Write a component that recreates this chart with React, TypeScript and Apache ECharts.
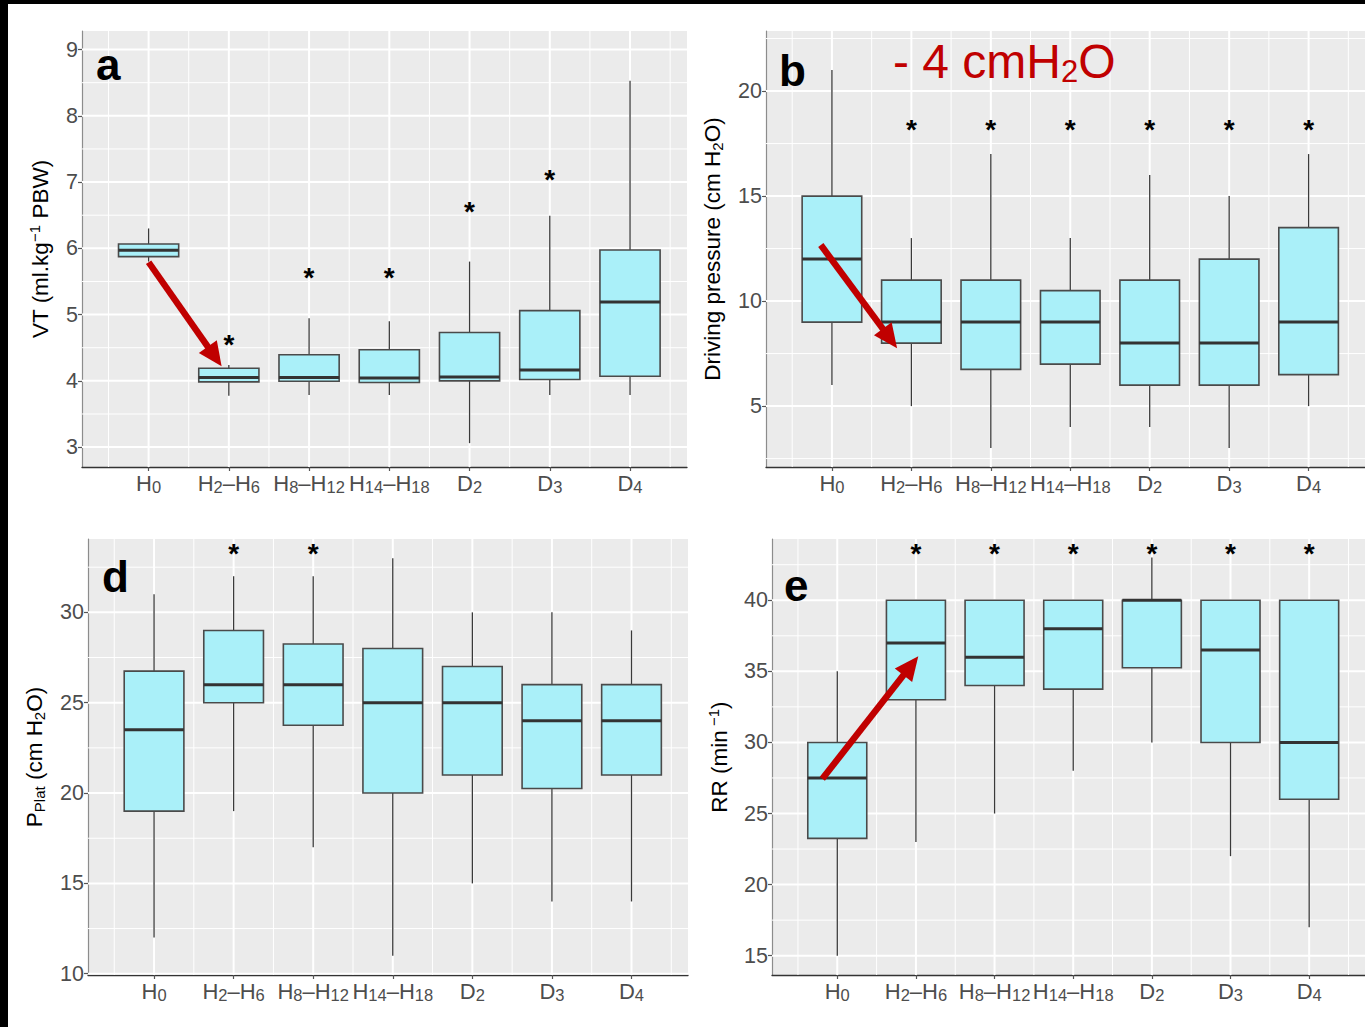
import React, { useEffect, useRef } from 'react';
import * as echarts from 'echarts';

// ---------- data ----------
const categories = ['H0', 'H2–H6', 'H8–H12', 'H14–H18', 'D2', 'D3', 'D4'];
const categoryRich = [
  '{n|H}{s|0}',
  '{n|H}{s|2}{n|–H}{s|6}',
  '{n|H}{s|8}{n|–H}{s|12}',
  '{n|H}{s|14}{n|–H}{s|18}',
  '{n|D}{s|2}',
  '{n|D}{s|3}',
  '{n|D}{s|4}',
];
const categoryIndex = [0, 1, 2, 3, 4, 5, 6];
const categoryMinor = [-0.5, 0.5, 1.5, 2.5, 3.5, 4.5, 5.5, 6.5];

// [min, q1, median, q3, max]
const vtBoxes = [
  [5.8, 5.875, 5.97, 6.065, 6.3],
  [3.775, 3.985, 4.05, 4.19, 4.24],
  [3.785, 3.995, 4.05, 4.395, 4.945],
  [3.785, 3.975, 4.045, 4.47, 4.9],
  [3.06, 4.0, 4.06, 4.73, 5.8],
  [3.785, 4.02, 4.165, 5.06, 6.49],
  [3.785, 4.07, 5.19, 5.975, 8.53],
];
const vtStars = [null, 4.6, 5.6, 5.6, 6.6, 7.09, null];
const vtTicks = [3, 4, 5, 6, 7, 8, 9];
const vtMinor = [3.5, 4.5, 5.5, 6.5, 7.5, 8.5];

const dpBoxes = [
  [6, 9, 12, 15, 21],
  [5, 8, 9, 11, 13],
  [3, 6.75, 9, 11, 17],
  [4, 7, 9, 10.5, 13],
  [4, 6, 8, 11, 16],
  [3, 6, 8, 12, 15],
  [5, 6.5, 9, 13.5, 17],
];
const dpStars = [null, 18.3, 18.3, 18.3, 18.3, 18.3, 18.3];
const dpTicks = [5, 10, 15, 20];
const dpMinor = [2.5, 7.5, 12.5, 17.5, 22.5];

const ppBoxes = [
  [12, 19, 23.5, 26.75, 31],
  [19, 25, 26, 29, 32],
  [17, 23.75, 26, 28.25, 32],
  [11, 20, 25, 28, 33],
  [15, 21, 25, 27, 30],
  [14, 20.25, 24, 26, 30],
  [14, 21, 24, 26, 29],
];
const ppStars = [null, 33.4, 33.4, null, null, null, null];
const ppTicks = [10, 15, 20, 25, 30];
const ppMinor = [12.5, 17.5, 22.5, 27.5, 32.5];

const rrBoxes = [
  [15, 23.25, 27.5, 30, 35],
  [23, 33, 37, 40, 40],
  [25, 34, 36, 40, 40],
  [28, 33.75, 38, 40, 40],
  [30, 35.25, 40, 40, 43],
  [22, 30, 36.5, 40, 40],
  [17, 26, 30, 40, 40],
];
const rrStars = [null, 43.5, 43.5, 43.5, 43.5, 43.5, 43.5];
const rrTicks = [15, 20, 25, 30, 35, 40];
const rrMinor = [17.5, 22.5, 27.5, 32.5, 37.5, 42.5];

// arrows: [x1, y1, x2, y2] in data units
const vtArrow = [0, 5.79, 0.91, 4.22];
const dpArrow = [-0.14, 12.67, 0.82, 7.76];
const rrArrow = [-0.19, 27.44, 1.03, 36.06];

const SANS = '"Liberation Sans", Arial, Helvetica, sans-serif';

type Panel = {
  rect: { left: number; top: number; width: number; height: number };
  yMin: number;
  yMax: number;
  boxes: number[][];
  stars: (number | null)[];
  ticks: number[];
  minor: number[];
  arrow: number[] | null;
  name: string;
  nameGap: number;
};

const nameRich = {
  t: { fontSize: 22.5, fontFamily: SANS, color: '#000', lineHeight: 26 },
  sub: { fontSize: 15, fontFamily: SANS, color: '#000', verticalAlign: 'bottom', lineHeight: 15 },
  sup: { fontSize: 15, fontFamily: SANS, color: '#000', verticalAlign: 'top', lineHeight: 15 },
};

const panels: Panel[] = [
  {
    rect: { left: 82, top: 31, width: 605, height: 436 },
    yMin: 2.7, yMax: 9.28, boxes: vtBoxes, stars: vtStars, ticks: vtTicks, minor: vtMinor,
    arrow: vtArrow,
    name: '{t|VT (ml.kg}{sup|−1}{t| PBW)}', nameGap: 29,
  },
  {
    rect: { left: 766, top: 31, width: 599, height: 436 },
    yMin: 2.1, yMax: 22.86, boxes: dpBoxes, stars: dpStars, ticks: dpTicks, minor: dpMinor,
    arrow: dpArrow,
    name: '{t|Driving pressure (cm H}{sub|2}{t|O)}', nameGap: 41,
  },
  {
    rect: { left: 88, top: 539, width: 600, height: 436 },
    yMin: 9.93, yMax: 34.06, boxes: ppBoxes, stars: ppStars, ticks: ppTicks, minor: ppMinor,
    arrow: null,
    name: '{t|P}{sub|Plat}{t| (cm H}{sub|2}{t|O)}', nameGap: 41,
  },
  {
    rect: { left: 772, top: 539, width: 593, height: 436 },
    yMin: 13.64, yMax: 44.31, boxes: rrBoxes, stars: rrStars, ticks: rrTicks, minor: rrMinor,
    arrow: rrArrow,
    name: '{t|RR (min}{sup| −1}{t|)}', nameGap: 40,
  },
];

function buildOption() {
  const grid: any[] = [];
  const xAxis: any[] = [];
  const yAxis: any[] = [];
  const series: any[] = [];

  panels.forEach((p, gi) => {
    grid.push({
      ...p.rect,
      show: true,
      backgroundColor: '#ebebeb',
      borderWidth: 0,
      containLabel: false,
    });
    xAxis.push({
      type: 'value',
      gridIndex: gi,
      min: -0.83,
      max: 6.71,
      axisLine: { show: true, onZero: false, lineStyle: { color: '#333', width: 1.3 } },
      axisTick: { show: true, customValues: categoryIndex, length: 4, lineStyle: { color: '#555', width: 1.2 } },
      axisLabel: {
        customValues: categoryIndex,
        formatter: (v: number) => categoryRich[Math.round(v)] ?? '',
        margin: 5,
        rich: {
          n: { fontSize: 22, fontFamily: SANS, color: '#4d4d4d', lineHeight: 23 },
          s: { fontSize: 16.5, fontFamily: SANS, color: '#4d4d4d', verticalAlign: 'bottom', lineHeight: 16 },
        },
      },
      splitLine: { show: false },
    });
    yAxis.push({
      type: 'value',
      gridIndex: gi,
      min: p.yMin,
      max: p.yMax,
      axisLine: { show: true, onZero: false, lineStyle: { color: '#8c8c8c', width: 1.2 } },
      axisTick: { show: true, customValues: p.ticks, length: 4, lineStyle: { color: '#555', width: 1.2 } },
      axisLabel: {
        customValues: p.ticks,
        color: '#4d4d4d',
        fontSize: 21.5,
        fontFamily: SANS,
        margin: 4,
      },
      splitLine: { show: false },
      name: p.name,
      nameLocation: 'middle',
      nameRotate: 90,
      nameGap: p.nameGap,
      nameTextStyle: { rich: nameRich },
    });

    // gridlines: [orient(0=h,1=v), value, major]
    const gl: number[][] = [];
    p.minor.forEach((v) => gl.push([0, v, 0]));
    p.ticks.forEach((v) => gl.push([0, v, 1]));
    categoryMinor.forEach((v) => gl.push([1, v, 0]));
    categoryIndex.forEach((v) => gl.push([1, v, 1]));
    series.push({
      type: 'custom',
      xAxisIndex: gi,
      yAxisIndex: gi,
      silent: true,
      z: 1,
      encode: { x: -1, y: 1 },
      data: gl,
      renderItem: (params: any, api: any) => {
        const cs = params.coordSys;
        const orient = api.value(0);
        const v = api.value(1);
        const major = api.value(2);
        const style = { stroke: '#ffffff', lineWidth: major ? 2 : 1 };
        if (orient === 0) {
          const y = api.coord([0, v])[1];
          return { type: 'line', shape: { x1: cs.x, y1: y, x2: cs.x + cs.width, y2: y }, style };
        }
        const x = api.coord([v, p.yMin])[0];
        return { type: 'line', shape: { x1: x, y1: cs.y, x2: x, y2: cs.y + cs.height }, style };
      },
    });

    // boxes
    series.push({
      type: 'custom',
      xAxisIndex: gi,
      yAxisIndex: gi,
      silent: true,
      z: 2,
      encode: { x: 0, y: [1, 2, 3, 4, 5] },
      data: p.boxes.map((b, i) => [i, ...b]),
      renderItem: (params: any, api: any) => {
        const x = api.value(0);
        const pMin = api.coord([x, api.value(1)]);
        const pQ1 = api.coord([x, api.value(2)]);
        const pMed = api.coord([x, api.value(3)]);
        const pQ3 = api.coord([x, api.value(4)]);
        const pMax = api.coord([x, api.value(5)]);
        const half = api.size([0.75, 0])[0] / 2;
        const ws = { stroke: '#3a3a3a', lineWidth: 1.3 };
        return {
          type: 'group',
          children: [
            { type: 'line', shape: { x1: pMin[0], y1: pMin[1], x2: pQ1[0], y2: pQ1[1] }, style: ws },
            { type: 'line', shape: { x1: pQ3[0], y1: pQ3[1], x2: pMax[0], y2: pMax[1] }, style: ws },
            {
              type: 'rect',
              shape: { x: pQ3[0] - half, y: pQ3[1], width: 2 * half, height: pQ1[1] - pQ3[1] },
              style: { fill: '#aaf0f9', stroke: '#4a4a4a', lineWidth: 1.6 },
            },
            {
              type: 'line',
              shape: { x1: pMed[0] - half, y1: pMed[1], x2: pMed[0] + half, y2: pMed[1] },
              style: { stroke: '#333333', lineWidth: 3 },
            },
          ],
        };
      },
    });

    // stars
    const starData: number[][] = [];
    p.stars.forEach((s, i) => {
      if (s !== null) starData.push([i, s]);
    });
    series.push({
      type: 'custom',
      xAxisIndex: gi,
      yAxisIndex: gi,
      silent: true,
      z: 3,
      encode: { x: 0, y: 1 },
      data: starData,
      renderItem: (params: any, api: any) => {
        const pt = api.coord([api.value(0), api.value(1)]);
        return {
          type: 'text',
          x: pt[0],
          y: pt[1] + 3,
          style: {
            text: '*',
            fontSize: 28,
            fontWeight: 'bold',
            fontFamily: SANS,
            fill: '#000',
            align: 'center',
            verticalAlign: 'middle',
          },
        };
      },
    });

    if (p.arrow) {
      series.push({
        type: 'custom',
        xAxisIndex: gi,
        yAxisIndex: gi,
        silent: true,
        z: 4,
        encode: { x: [0, 2], y: [1, 3] },
        data: [p.arrow],
        renderItem: (params: any, api: any) => {
          const p1 = api.coord([api.value(0), api.value(1)]);
          const p2 = api.coord([api.value(2), api.value(3)]);
          const dx = p2[0] - p1[0];
          const dy = p2[1] - p1[1];
          const len = Math.hypot(dx, dy);
          const ux = dx / len;
          const uy = dy / len;
          const headL = 24;
          const headW = 11;
          const bx = p2[0] - ux * headL;
          const by = p2[1] - uy * headL;
          const nx = -uy;
          const ny = ux;
          return {
            type: 'group',
            children: [
              {
                type: 'line',
                shape: { x1: p1[0], y1: p1[1], x2: bx + ux * 2, y2: by + uy * 2 },
                style: { stroke: '#c00000', lineWidth: 6.5 },
              },
              {
                type: 'polygon',
                shape: {
                  points: [
                    [p2[0], p2[1]],
                    [bx + nx * headW, by + ny * headW],
                    [bx - nx * headW, by - ny * headW],
                  ],
                },
                style: { fill: '#c00000' },
              },
            ],
          };
        },
      });
    }
  });

  const letterStyle = (text: string) => ({
    text,
    fontSize: 44,
    fontWeight: 'bold',
    fontFamily: SANS,
    fill: '#000',
  });

  const graphic: any[] = [
    { type: 'rect', left: 0, top: 0, shape: { width: 1365, height: 4 }, style: { fill: '#000' }, z: 100 },
    { type: 'rect', left: 0, top: 0, shape: { width: 8, height: 1027 }, style: { fill: '#000' }, z: 100 },
    { type: 'text', left: 96, top: 42, style: letterStyle('a'), z: 100 },
    { type: 'text', left: 779, top: 48, style: letterStyle('b'), z: 100 },
    { type: 'text', left: 102, top: 554, style: letterStyle('d'), z: 100 },
    { type: 'text', left: 784, top: 563, style: letterStyle('e'), z: 100 },
    {
      type: 'text',
      left: 893,
      top: 37,
      z: 100,
      style: {
        text: '{a|- 4 cmH}{s|2}{a|O}',
        rich: {
          a: { fontSize: 48, fontFamily: SANS, fill: '#c00000', lineHeight: 52 },
          s: { fontSize: 31, fontFamily: SANS, fill: '#c00000', verticalAlign: 'bottom', lineHeight: 31 },
        },
      },
    },
  ];

  return {
    animation: false,
    backgroundColor: '#ffffff',
    grid,
    xAxis,
    yAxis,
    series,
    graphic,
  };
}

export default function App() {
  const ref = useRef<HTMLDivElement>(null);
  useEffect(() => {
    document.body.style.margin = '0';
    if (!ref.current) return;
    const chart = echarts.init(ref.current, null, { renderer: 'svg' });
    chart.setOption(buildOption() as any);
    return () => chart.dispose();
  }, []);
  return <div ref={ref} style={{ width: 1365, height: 1027 }} />;
}
